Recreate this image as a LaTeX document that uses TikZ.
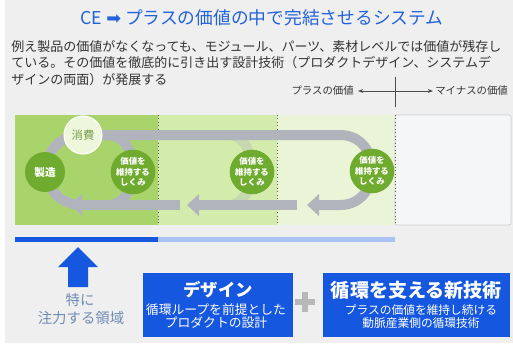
\documentclass[tikz,border=0pt]{standalone}
\usepackage{fontspec}
\setmainfont{Noto Sans CJK JP}
\newfontfamily\dejavu{DejaVu Sans}
\usetikzlibrary{arrows.meta}
\definecolor{bgc}{HTML}{EFEFEF}
\definecolor{titleblue}{HTML}{2262DA}
\definecolor{boxblue}{HTML}{1657E0}
\definecolor{barlight}{HTML}{A9C2F2}
\definecolor{pone}{HTML}{A9D46B}
\definecolor{ptwo}{HTML}{D4ECAB}
\definecolor{pthree}{HTML}{EAF5D7}
\definecolor{pfour}{HTML}{F5F6F8}
\definecolor{dgreen}{HTML}{6FAB2F}
\definecolor{lgreen}{HTML}{EEF6DC}
\definecolor{loopgray}{HTML}{B1B3BD}
\definecolor{notecol}{HTML}{6F8CB5}
\definecolor{bodytext}{HTML}{333333}
\tikzset{
  bodyline/.style={anchor=west, inner sep=0pt, text=bodytext, font=\fontsize{9.75}{11}\selectfont},
  axislabel/.style={inner sep=0pt, text=bodytext, font=\fontsize{7.8}{9}\selectfont},
  panel/.style={inner sep=0pt, draw=none},
  divider/.style={draw=black!65, dotted, line width=0.6pt},
  loopline/.style={draw=loopgray, line width=7.5pt},
  looptip/.style={-{Triangle[width=16pt,length=9pt]}},
  keepcirc/.style={circle, fill=dgreen, text=white, minimum size=28.5pt, inner sep=0pt, align=center, font=\bfseries\fontsize{6.3}{8}\selectfont},
  bluebox/.style={fill=boxblue, inner sep=0pt, draw=none},
  boxtitle/.style={text=white, inner sep=0pt, font=\bfseries\fontsize{13}{15}\selectfont},
  boxsub/.style={text=white, inner sep=0pt, font=\fontsize{9.2}{11}\selectfont},
}
\begin{document}
\begin{tikzpicture}[x=0.75pt,y=-0.75pt]
\useasboundingbox (0,0) rectangle (513,343);
\fill[bgc] (0,0) rectangle (513,343);
\fill[white] (0,0) rectangle (5,343);

% title and body text
\node[inner sep=0pt, text=titleblue, font=\fontsize{13.3}{16}\selectfont] (title) at (262,18) {CE {\dejavu ➡} プラスの価値の中で完結させるシステム};
\node[bodyline] (l1) at (11,46) {例え製品の価値がなくなっても、モジュール、パーツ、素材レベルでは価値が残存し};
\node[bodyline] (l2) at (11,63) {ている。その価値を徹底的に引き出す設計技術（プロダクトデザイン、システムデ};
\node[bodyline] (l3) at (11,80) {ザインの両面）が発展する};

% axis labels
\coordinate (axtop) at (395,77);
\coordinate (axbot) at (395,107);
\coordinate (axmid) at (395,91);
\coordinate (axl) at (358,91);
\coordinate (axr) at (433,91);
\draw[black!70, line width=0.6pt] (axtop) -- (axbot);
\draw[black!70, line width=0.5pt, -{Stealth[length=4pt,width=3pt]}] (axmid) -- (axl);
\draw[black!70, line width=0.5pt, -{Stealth[length=4pt,width=3pt]}] (axmid) -- (axr);
\node[axislabel, anchor=east] (plusv) at (354,91) {プラスの価値};
\node[axislabel, anchor=west] (minusv) at (435,91) {マイナスの価値};

% panels
\fill[pone] (15,115) rectangle (158,225);
\fill[ptwo] (158,115) rectangle (277,225);
\fill[pthree] (277,115) rectangle (395,225);
\filldraw[fill=pfour, draw=black!20, line width=0.5pt, rounded corners=1.5pt] (395,115) rectangle (511,225);
\draw[divider] (158,115) -- (158,225);
\draw[divider] (277,115) -- (277,225);
\draw[divider] (395,115) -- (395,225);

% blue bar
\fill[boxblue] (15,237) rectangle (158,242);
\fill[barlight] (158,237) rectangle (395,242);

% loops
\coordinate (topstart) at (82,135);
\coordinate (topend) at (340,135);
\coordinate (botend) at (340,205);
\coordinate (tipa) at (307,205);
\coordinate (bstart) at (297,205);
\coordinate (tipb) at (187,205);
\coordinate (cstart) at (180,205);
\coordinate (tipc) at (70,205);
\draw[loopline, opacity=0.35] (228,135) .. controls (260,135) and (260,205) .. (228,205);
\draw[loopline] (82,135) .. controls (35,135) and (35,205) .. (82,205);
\draw[loopline] (108,135) .. controls (141.3,135) and (141.3,205) .. (108,205);
\draw[loopline, looptip] (topstart) -- (topend) .. controls (382.7,135) and (382.7,205) .. (botend) -- (tipa);
\draw[loopline, looptip] (bstart) -- (tipb);
\draw[loopline, looptip] (cstart) -- (tipc);

% circles
\node[circle, fill=dgreen, text=white, minimum size=30pt, inner sep=0pt, font=\bfseries\fontsize{8}{9}\selectfont] (make) at (45,172) {製造};
\node[circle, fill=lgreen, draw=white, line width=0.8pt, text=dgreen!70!gray, minimum size=28.5pt, inner sep=0pt, font=\fontsize{8.5}{9}\selectfont] (cons) at (83,135) {消費};
\node[keepcirc] (k1) at (133,172) {価値を\\維持する\\しくみ};
\node[keepcirc] (k2) at (252,172) {価値を\\維持する\\しくみ};
\node[keepcirc, minimum size=30pt] (k3) at (372,171) {価値を\\維持する\\しくみ};

% up arrow
\fill[boxblue] (78,247) -- (98,267) -- (88,267) -- (88,287) -- (68,287) -- (68,267) -- (58,267) -- cycle;
\node[inner sep=0pt, text=notecol, font=\fontsize{10.8}{12}\selectfont] (note1) at (80,300) {特に};
\node[inner sep=0pt, text=notecol, font=\fontsize{10.8}{12}\selectfont] (note2) at (81,318) {注力する領域};

% boxes
\node[bluebox, minimum width=112.5pt, minimum height=48pt] (box1) at (218,305) {};
\node[boxtitle] (box1t) at (218,290) {デザイン};
\node[boxsub, font=\fontsize{9.6}{11}\selectfont] (box1a) at (216,310) {循環ループを前提とした};
\node[boxsub, font=\fontsize{9.6}{11}\selectfont] (box1b) at (216,323) {プロダクトの設計};

\node[bluebox, minimum width=140.25pt, minimum height=48pt] (box2) at (416.5,305) {};
\node[boxtitle, font=\bfseries\fontsize{14.3}{16}\selectfont] (box2t) at (416.5,290) {循環を支える新技術};
\node[boxsub, font=\fontsize{8.8}{10}\selectfont] (box2a) at (421,310) {プラスの価値を維持し続ける};
\node[boxsub, font=\fontsize{8.8}{10}\selectfont] (box2b) at (421,323) {動脈産業側の循環技術};

% plus sign
\coordinate (pl) at (295,302);
\coordinate (pr) at (315,302);
\coordinate (pt) at (305,292);
\coordinate (pb) at (305,312);
\draw[black!28, line width=3.8pt] (pl) -- (pr);
\draw[black!28, line width=3.8pt] (pt) -- (pb);
\end{tikzpicture}
\end{document}
